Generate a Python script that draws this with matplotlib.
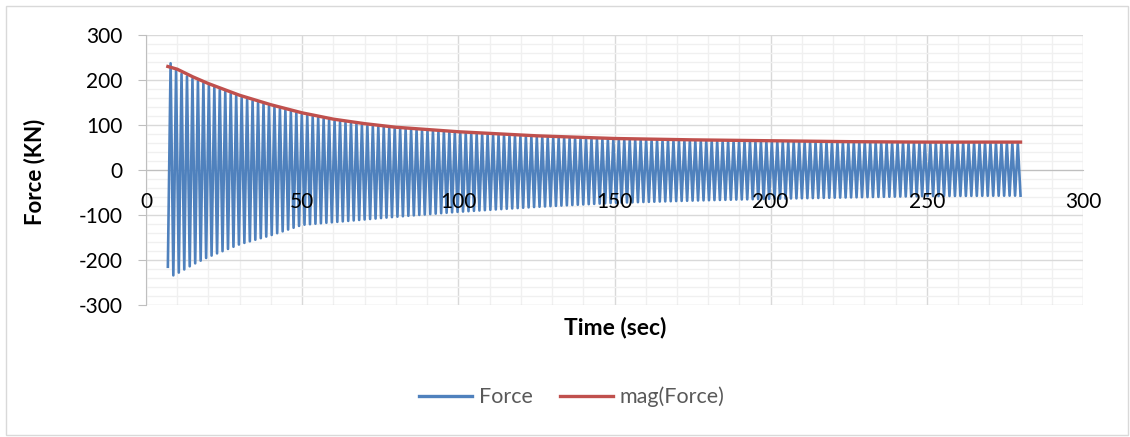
import numpy as np
import matplotlib.pyplot as plt
from matplotlib.lines import Line2D
from matplotlib.patches import Rectangle
from matplotlib.transforms import offset_copy

# envelope values (time in sec, force in KN)
env_time = [7, 10, 15, 20, 30, 40, 50, 60, 70, 80, 100, 125, 150, 175, 200, 225, 250, 280]
mag_force = [230, 224, 207, 192, 166, 145, 127, 113, 103, 95, 85, 76, 70, 67, 65, 63, 62, 62]
pos_peak = [245, 218, 202, 188, 162, 141, 123, 109, 99, 92, 82, 73, 67, 64, 62, 61, 60, 60]
neg_peak = [-240, -230, -210, -193, -165, -145, -122, -116, -110, -104, -93, -82, -73, -68, -64, -61, -58, -57]
period = 1.75  # seconds per cycle, counted from the spikes
x_ticks = [0, 50, 100, 150, 200, 250, 300]

# force signal: alternating troughs/peaks every half period
t_force = np.arange(7, 280.01, period / 2)
force = np.where(np.arange(len(t_force)) % 2 == 1,
                 np.interp(t_force, env_time, pos_peak),
                 np.interp(t_force, env_time, neg_peak))
force[0] = -215

blue = '#4F81BD'
red = '#C0504D'
txt = '#595959'

plt.rcParams['font.family'] = ['Lato', 'DejaVu Sans']
plt.rcParams['axes.unicode_minus'] = False

fig = plt.figure(figsize=(11.3, 4.37), dpi=100)
fig.patches.append(Rectangle((6 / 1130, 2 / 437), 1122 / 1130, 429 / 437,
                             transform=fig.transFigure, fill=False,
                             edgecolor='#d9d9d9', linewidth=1))
ax = fig.add_axes([146 / 1130, 1 - 305 / 437, 937 / 1130, 270 / 437])

ax.plot(t_force, force, color=blue, linewidth=1.9, zorder=2)
ax.plot(env_time, mag_force, color=red, linewidth=2.4, zorder=3)

ax.set_xlim(0, 300)
ax.set_ylim(-300, 300)
ax.set_xticks(x_ticks)
ax.set_xticks(np.arange(0, 301, 10), minor=True)
ax.set_yticks(np.arange(-300, 301, 100))
ax.set_yticks(np.arange(-300, 301, 20), minor=True)
ax.grid(which='major', color='#d9d9d9', linewidth=1)
ax.grid(which='minor', color='#f0f0f0', linewidth=1)
ax.set_axisbelow(True)

for s in ['top', 'right']:
    ax.spines[s].set_visible(False)
ax.spines['bottom'].set_position(('data', 0))
ax.spines['bottom'].set_color('#bfbfbf')
ax.spines['bottom'].set_zorder(1)
ax.spines['left'].set_color('#bfbfbf')
ax.tick_params(axis='x', which='both', length=0, labelbottom=False)
ax.tick_params(axis='y', which='major', length=6, color='#bfbfbf', pad=11,
               labelsize=15, labelcolor='black')
ax.tick_params(axis='y', which='minor', length=0)

# x tick labels sit just under the zero line, on top of the data
lab_tr = offset_copy(ax.transData, fig=fig, x=0, y=-32, units='dots')
for xv in x_ticks:
    ax.text(xv, 0, str(xv), transform=lab_tr, ha='center', va='center',
            fontsize=15, color='black', zorder=5, clip_on=False)

fig.text(35 / 1130, 1 - 172 / 437, 'Force (KN)', rotation=90, ha='center', va='center',
         fontsize=16, fontweight='bold')
fig.text(615 / 1130, 1 - 327 / 437, 'Time (sec)', ha='center', va='center',
         fontsize=16.5, fontweight='bold')

handles = [Line2D([], [], color=blue, linewidth=2.4), Line2D([], [], color=red, linewidth=2.4)]
fig.legend(handles, ['Force', 'mag(Force)'], loc='center', bbox_to_anchor=(572 / 1130, 1 - 397 / 437),
           ncol=2, frameon=False, fontsize=15.5, labelcolor=txt, handlelength=2.45,
           columnspacing=1.3, handletextpad=0.3)

fig.savefig('out.png', dpi=100)
